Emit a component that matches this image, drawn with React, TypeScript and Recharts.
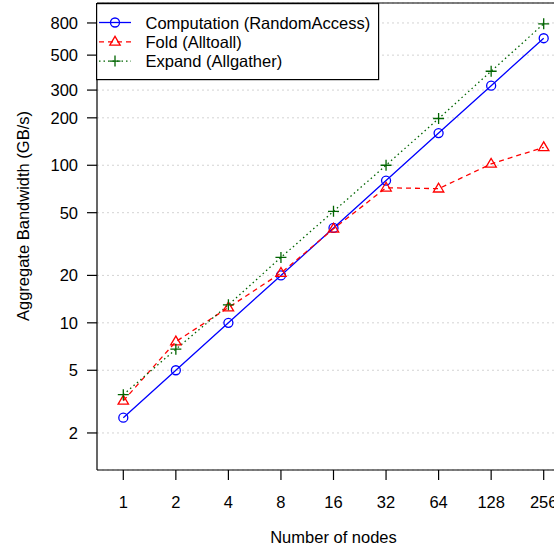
import { CartesianGrid, Legend, Line, LineChart, ReferenceLine, XAxis, YAxis } from 'recharts';

const nodes = ['1', '2', '4', '8', '16', '32', '64', '128', '256'];
const computation = [2.5, 5, 10, 20, 40, 80, 160, 320, 640];
const fold = [3.2, 7.6, 12.5, 20.7, 39.5, 72, 71, 102, 130];
const expand = [3.5, 6.8, 13, 26, 51, 100, 198, 395, 790];
const yTicks = [2, 5, 10, 20, 50, 100, 200, 300, 500, 800];

const Y_MIN = 1.164;
const Y_MAX = 1071;

const BLUE = '#0000ff';
const RED = '#ff0000';
const GREEN = '#006400';
const FONT = '"Liberation Sans", Arial, sans-serif';
const FS = 16.5;

const data = nodes.map((n, i) => ({
  n,
  computation: computation[i],
  fold: fold[i],
  expand: expand[i],
}));

function CircleMark({ cx, cy }: { cx: number; cy: number }) {
  return <circle cx={cx} cy={cy} r={4.5} fill="none" stroke={BLUE} strokeWidth={1.3} />;
}

function TriangleMark({ cx, cy }: { cx: number; cy: number }) {
  const pts = `${cx},${cy - 5.5} ${cx - 5.2},${cy + 3.3} ${cx + 5.2},${cy + 3.3}`;
  return <polygon points={pts} fill="none" stroke={RED} strokeWidth={1.3} />;
}

function PlusMark({ cx, cy }: { cx: number; cy: number }) {
  return (
    <path
      d={`M${cx - 5.5},${cy}H${cx + 5.5}M${cx},${cy - 5.5}V${cy + 5.5}`}
      stroke={GREEN}
      strokeWidth={1.3}
      fill="none"
    />
  );
}

const legendItems = [
  { label: 'Computation (RandomAccess)', color: BLUE, dash: undefined, Mark: CircleMark },
  { label: 'Fold (Alltoall)', color: RED, dash: '5 4', Mark: TriangleMark },
  { label: 'Expand (Allgather)', color: GREEN, dash: '1.5 3', Mark: PlusMark },
];

function LegendBox() {
  return (
    <svg width={284} height={78} style={{ display: 'block' }}>
      <rect x={0.6} y={0.6} width={282} height={76} fill="#fff" stroke="#000" strokeWidth={1.2} />
      {legendItems.map((it, i) => {
        const y = 19.5 + i * 19.3;
        return (
          <g key={it.label}>
            <line x1={3} x2={35} y1={y} y2={y} stroke={it.color} strokeWidth={1.3} strokeDasharray={it.dash} />
            <it.Mark cx={19} cy={y} />
            <text x={49.5} y={y} dominantBaseline="central" fontSize={FS} fontFamily={FONT} fill="#000">
              {it.label}
            </text>
          </g>
        );
      })}
    </svg>
  );
}

function YTitle() {
  return (
    <text
      x={23}
      y={216}
      transform="rotate(-90, 23, 216)"
      textAnchor="middle"
      dominantBaseline="central"
      fontSize={FS}
      fontFamily={FONT}
      fill="#000"
    >
      Aggregate Bandwidth (GB/s)
    </text>
  );
}

export default function App() {
  const tick = { fill: '#000', fontSize: FS, fontFamily: FONT };
  return (
    <div style={{ position: 'absolute', left: 0, top: 0, width: 554, height: 546, overflow: 'hidden', background: '#fff' }}>
      <LineChart width={580} height={546} data={data} margin={{ top: 3, right: 10, bottom: 0, left: 0 }}>
        <CartesianGrid vertical={false} stroke="#d3d3d3" strokeDasharray="2 3" />
        <XAxis
          dataKey="n"
          type="category"
          interval={0}
          height={76}
          padding={{ left: 26.3, right: 26.3 }}
          tickSize={10}
          tickMargin={16}
          tick={tick}
          axisLine={{ stroke: '#000', strokeWidth: 1.2 }}
          tickLine={{ stroke: '#000', strokeWidth: 1.2 }}
          label={{ value: 'Number of nodes', position: 'insideBottom', offset: 3, fontSize: FS, fontFamily: FONT, fill: '#000' }}
        />
        <YAxis
          scale="log"
          domain={[Y_MIN, Y_MAX]}
          allowDataOverflow
          ticks={yTicks}
          interval={0}
          width={97}
          tickSize={10}
          tickMargin={9}
          tick={tick}
          axisLine={{ stroke: '#000', strokeWidth: 1.2 }}
          tickLine={{ stroke: '#000', strokeWidth: 1.2 }}
          label={{ content: () => <YTitle /> }}
        />
        <ReferenceLine y={Y_MAX} stroke="#000" strokeWidth={1.2} />
        <Line
          dataKey="computation"
          stroke={BLUE}
          strokeWidth={1.3}
          dot={(p: any) => <CircleMark key={`c${p.index}`} cx={p.cx} cy={p.cy} />}
          activeDot={false}
          isAnimationActive={false}
        />
        <Line
          dataKey="fold"
          stroke={RED}
          strokeWidth={1.3}
          strokeDasharray="5 4"
          dot={(p: any) => <TriangleMark key={`f${p.index}`} cx={p.cx} cy={p.cy} />}
          activeDot={false}
          isAnimationActive={false}
        />
        <Line
          dataKey="expand"
          stroke={GREEN}
          strokeWidth={1.3}
          strokeDasharray="1.5 3"
          dot={(p: any) => <PlusMark key={`e${p.index}`} cx={p.cx} cy={p.cy} />}
          activeDot={false}
          isAnimationActive={false}
        />
        <Legend
          layout="horizontal"
          verticalAlign="middle"
          align="center"
          content={() => <LegendBox />}
          wrapperStyle={{ left: 96, top: 3, width: 284, height: 78 }}
        />
      </LineChart>
    </div>
  );
}
